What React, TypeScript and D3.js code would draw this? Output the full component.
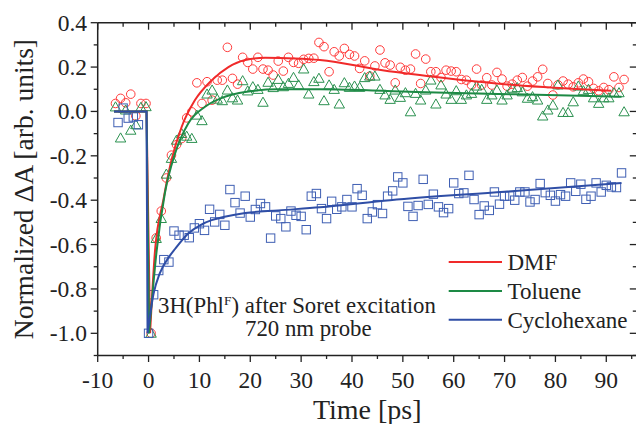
import React from "react";
import * as d3 from "d3";

// ---------- data ----------
const dmfT = [-6.5,-5.5,-4.5,-3.5,-2.5,-1.5,-0.5,0.5,1.5,2.5,3.5,4.5,5.5,6.5,7.5,8.5,9.5,10.5,11.5,12.5,13.5,14.5,15.5,16.5,17.5,18.5,19.5,20.5,21.5,22.5,23.5,24.5,25.5,26.5,27.5,28.5,29.5,30.5,31.5,32.5,33.5,34.5,35.5,36.5,37.5,38.5,39.5,40.5,41.5,42.5,43.5,44.5,45.5,46.5,47.5,48.5,49.5,50.5,51.5,52.5,53.5,54.5,55.5,56.5,57.5,58.5,59.5,60.5,61.5,62.5,63.5,64.5,65.5,66.5,67.5,68.5,69.5,70.5,71.5,72.5,73.5,74.5,75.5,76.5,77.5,78.5,79.5,80.5,81.5,82.5,83.5,84.5,85.5,86.5,87.5,88.5,89.5,90.5,91.5,92.5,93.5];
const dmfV = [0.036,0.059,0.039,0.078,-0.02,0.036,0.036,-1.0,-0.57,-0.449,-0.30,-0.197,-0.15,-0.122,-0.029,-0.002,0.129,0.036,0.134,0.051,0.141,0.141,0.289,0.149,0.123,0.244,0.221,0.191,0.244,0.191,0.186,0.164,0.227,0.182,0.244,0.221,0.217,0.235,0.239,0.24,0.311,0.292,0.179,0.269,0.25,0.284,0.257,0.25,0.194,0.228,0.159,0.205,0.277,0.219,0.209,0.129,0.199,0.186,0.191,0.259,0.126,0.236,0.179,0.179,0.153,0.186,0.182,0.179,0.144,0.141,0.119,0.191,0.119,0.152,0.119,0.176,0.146,0.114,0.123,0.141,0.153,0.114,0.137,0.156,0.19,0.126,0.074,0.12,0.137,0.123,0.111,0.129,0.146,0.134,0.104,0.093,0.108,0.098,0.156,0.108,0.144];

const tolT = dmfT;
const tolV = [0.02,-0.12,0.006,-0.085,-0.06,0.018,0.021,-1.0,-0.573,-0.483,-0.283,-0.212,-0.13,-0.10,-0.112,-0.122,-0.017,-0.042,0.078,0.096,0.055,0.048,0.096,0.061,0.051,0.138,0.092,0.111,0.099,0.041,0.131,0.107,0.144,0.111,0.126,0.153,0.119,0.191,0.078,0.134,0.149,0.048,0.119,0.099,0.033,0.129,0.108,0.114,0.108,0.152,0.159,0.159,0.099,0.074,0.054,0.096,0.063,0.084,-0.002,0.081,0.051,0.096,0.141,0.033,0.119,0.078,0.054,0.093,0.054,0.074,0.081,0.114,0.099,0.054,0.074,0.096,0.051,0.074,0.104,0.107,0.088,0.059,0.066,0.051,-0.021,0.006,0.028,0.119,-0.005,-0.005,0.043,0.114,0.093,0.099,0.061,0.036,0.061,0.061,0.084,0.084,-0.002];

const cycT = [-6,-5,-4,-3,-2,0,1,2,3,4,5,6,7,8,9,10,11,12,13,14,15,16,17,18,19,20,21,22,23,24,25,26,27,28,29,30,31,32,33,34,35,36,37,38,39,40,41,42,43,44,45,46,47,48,49,50,51,52,53,54,55,56,57,58,59,60,61,62,63,64,65,66,67,68,69,70,71,72,73,74,75,76,77,78,79,80,81,82,83,84,85,86,87,88,89,90,91,92,93];
const cycV = [-0.05,0.015,-0.03,-0.025,-0.06,-1.0,-0.826,-0.717,-0.668,-0.679,-0.539,-0.558,-0.558,-0.569,-0.525,-0.506,-0.536,-0.441,-0.498,-0.464,-0.513,-0.352,-0.411,-0.458,-0.382,-0.476,-0.442,-0.415,-0.43,-0.571,-0.471,-0.483,-0.52,-0.449,-0.468,-0.473,-0.533,-0.382,-0.37,-0.438,-0.483,-0.405,-0.441,-0.43,-0.397,-0.43,-0.348,-0.378,-0.483,-0.453,-0.42,-0.46,-0.382,-0.358,-0.295,-0.322,-0.428,-0.473,-0.424,-0.306,-0.419,-0.373,-0.43,-0.456,-0.438,-0.322,-0.37,-0.367,-0.288,-0.397,-0.465,-0.426,-0.446,-0.363,-0.418,-0.382,-0.381,-0.4,-0.363,-0.363,-0.408,-0.397,-0.325,-0.366,-0.378,-0.404,-0.375,-0.382,-0.322,-0.36,-0.328,-0.396,-0.382,-0.322,-0.363,-0.333,-0.34,-0.343,-0.277];

// fit curves
const dmfFitT = [-6.8,-0.4,0.3,1.26,2.9,4.5,6.5,9.1,12.4,15.7,19,22.9,28.8,33.7,46,59,72,91];
const dmfFitV = [0,0,-1.0,-0.63,-0.40,-0.22,-0.07,0.05,0.14,0.20,0.232,0.242,0.239,0.232,0.186,0.149,0.119,0.093];
const tolFitT = [-6.8,-0.4,0.1,1.6,3.2,5.2,7.8,11.1,15,19,25.5,33.7,52.6,72.2,93];
const tolFitV = [0,0,-1.0,-0.626,-0.37,-0.19,-0.054,0.021,0.066,0.088,0.1,0.1,0.088,0.077,0.066];
const cycFitT = [-6.8,-0.4,-0.2,1,2.2,4.2,5.2,7.8,10.1,12.4,14.7,19,25.5,33.7,47.5,70,93];
const cycFitV = [0,0,-1.0,-0.82,-0.73,-0.65,-0.62,-0.55,-0.513,-0.49,-0.476,-0.458,-0.446,-0.432,-0.40,-0.362,-0.322];

const xTicks = [-10,0,10,20,30,40,50,60,70,80,90];
const xMinor = [-5,5,15,25,35,45,55,65,75,85,95];
const yTicks = [-1.0,-0.8,-0.6,-0.4,-0.2,0.0,0.2,0.4];
const yMinor = [-1.1,-0.9,-0.7,-0.5,-0.3,-0.1,0.1,0.3];
const legendNames = ["DMF","Toluene","Cyclohexane"];

const RED = "#f02a2a";
const GREEN = "#1d8a45";
const BLUE = "#2f4ea6";
const RED_S = "#ff3b3b";
const GREEN_S = "#2b9150";
const BLUE_S = "#3f5fb3";

const FONT = "'Liberation Serif', 'DejaVu Serif', serif";

export default function App() {
  const W = 636, H = 424;
  const x = d3.scaleLinear().domain([-10, 96]).range([97.7, 636.8]);
  const y = d3.scaleLinear().domain([-1.1, 0.4]).range([355.5, 22.7]);
  const L = x.range()[0], R = x.range()[1], B = y.range()[0], T = y.range()[1];

  const fitPath = (ts: number[], vs: number[], k: number) => {
    const pre = d3.line<number>().x(i => x(ts[i])).y(i => y(vs[i]))(ts.slice(0, k + 1).map((_, i) => i)) || "";
    const idx = ts.map((_, i) => i).slice(k);
    const post = d3.line<number>().x(i => x(ts[i])).y(i => y(vs[i])).curve(d3.curveMonotoneX)(idx) || "";
    return pre + post;
  };

  const fmt = (v: number) => (v < 0 ? "-" : "") + Math.abs(v).toFixed(1);

  const circles = dmfT.map((t, i) => (
    <circle key={"c" + i} cx={x(t)} cy={y(dmfV[i])} r={4.3} fill="none" stroke={RED_S} strokeWidth={1} />
  ));
  const tri = (cx: number, cy: number) => {
    const s = 5.2;
    return `M${cx},${cy - s}L${cx + s * 1.0},${cy + s * 0.75}L${cx - s * 1.0},${cy + s * 0.75}Z`;
  };
  const triangles = tolT.map((t, i) => (
    <path key={"t" + i} d={tri(x(t), y(tolV[i]))} fill="none" stroke={GREEN_S} strokeWidth={1} />
  ));
  const squares = cycT.map((t, i) => (
    <rect key={"s" + i} x={x(t) - 4.2} y={y(cycV[i]) - 4.2} width={8.4} height={8.4} fill="none" stroke={BLUE_S} strokeWidth={1} />
  ));

  const axisColor = "#222";

  return (
    <svg width={W} height={H} style={{ position: "absolute", left: 0, top: 0, background: "#fff" }} fontFamily={FONT}>
      <rect x={0} y={0} width={W} height={H} fill="#fff" />
      {circles}
      {triangles}
      {squares}
      <path d={fitPath(dmfFitT, dmfFitV, 2)} fill="none" stroke={RED} strokeWidth={2} />
      <path d={fitPath(tolFitT, tolFitV, 2)} fill="none" stroke={GREEN} strokeWidth={2} />
      <path d={fitPath(cycFitT, cycFitV, 2)} fill="none" stroke={BLUE} strokeWidth={2} />

      {/* frame */}
      <g stroke={axisColor} strokeWidth={1.5} fill="none">
        <line x1={L} y1={T} x2={L} y2={B} />
        <line x1={L} y1={B} x2={R} y2={B} />
        <line x1={L} y1={T} x2={R} y2={T} />
        <line x1={R} y1={T} x2={R} y2={B} />
      </g>
      <g stroke={axisColor} strokeWidth={1.3}>
        {xTicks.map(v => (
          <g key={"xt" + v}>
            <line x1={x(v)} x2={x(v)} y1={B} y2={B + 6.5} />
            <line x1={x(v)} x2={x(v)} y1={T} y2={T + 7} />
          </g>
        ))}
        {xMinor.map(v => (
          <g key={"xm" + v}>
            <line x1={x(v)} x2={x(v)} y1={B} y2={B + 3.5} />
            <line x1={x(v)} x2={x(v)} y1={T} y2={T + 4} />
          </g>
        ))}
        {yTicks.map(v => (
          <g key={"yt" + v}>
            <line x1={L - 7} x2={L} y1={y(v)} y2={y(v)} />
            <line x1={R - 7} x2={R} y1={y(v)} y2={y(v)} />
          </g>
        ))}
        {yMinor.map(v => (
          <g key={"ym" + v}>
            <line x1={L - 4} x2={L} y1={y(v)} y2={y(v)} />
            <line x1={R - 4} x2={R} y1={y(v)} y2={y(v)} />
          </g>
        ))}
      </g>
      <g fontSize={23.5} fill="#222">
        {yTicks.map(v => (
          <text key={"yl" + v} x={87} y={y(v)} textAnchor="end" dominantBaseline="central">{fmt(v)}</text>
        ))}
        {xTicks.map(v => (
          <text key={"xl" + v} x={x(v)} y={387.5} textAnchor="middle">{String(v)}</text>
        ))}
      </g>
      <text x={(L + R) / 2} y={418.5} textAnchor="middle" fontSize={28} fill="#222">Time [ps]</text>
      <text transform={`translate(33,${(T + B) / 2}) rotate(-90)`} textAnchor="middle" fontSize={27.5} fill="#222">Normalized ΔA [arb. units]</text>

      {/* legend */}
      {legendNames.map((n, i) => {
        const ly = 262 + i * 28.9;
        const c = [RED, GREEN, BLUE][i];
        return (
          <g key={n}>
            <line x1={448.7} x2={502} y1={ly} y2={ly} stroke={c} strokeWidth={2} />
            <text x={507.5} y={ly + 8} fontSize={23} fill="#222">{n}</text>
          </g>
        );
      })}

      {/* annotation */}
      <text x={158} y={313} fontSize={22.8} fill="#222">
        3H(Phl<tspan dy={-8} fontSize={13.5}>F</tspan><tspan dy={8}>) after Soret excitation</tspan>
      </text>
      <text x={245} y={336} fontSize={22.8} fill="#222">720 nm probe</text>
    </svg>
  );
}
